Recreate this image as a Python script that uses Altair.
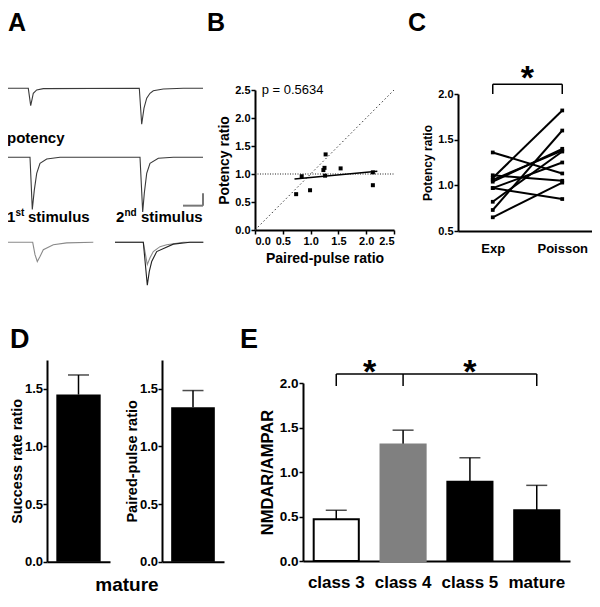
import altair as alt
import pandas as pd

FONT = "Liberation Sans"
W, H = 584, 590
M = 8  # page margin: reference pixel -> view pixel

# ---------------- data ----------------
# A: example current traces (time in ms, current in pA)
a1_t = [1, 12.15, 13.35, 14.15, 14.65, 16.35, 19.65, 67.65, 68.85, 70.0, 71.35, 73.0, 74.65, 79.65, 89.65, 99.5]
a1_i = [0, 0, -28, -16, -8, -2.7, -0.6, 0, -58, -32, -16, -8, -3.9, -1.1, 0, 0]
a2_t = [1, 13.0, 14.15, 15.15, 16.35, 18.0, 21.35, 28.0, 68.0, 69.35, 70.15, 71.35, 73.0, 77.15, 84.65, 99.5]
a2_i = [0, 0, -84, -53, -26, -9.7, -2.7, 0, 0, -88, -58, -26, -9.7, -1.6, 0, 0]
a3a_t = [1, 14.35, 15.5, 16.65, 18.0, 19.65, 24.65, 31.35, 44.65]
a3a_i = [0, 0, -20, -31, -23, -12, -4, -1, 0]
a3b_t = [55.5, 69.65, 71.65, 73.0, 74.65, 78.0, 81.35, 89.65, 99.65]
a3b_i = [0, 0, -36, -25, -15, -7, -4, 0, 0]
a3c_t = [55.5, 69.65, 71.65, 72.65, 73.85, 76.35, 84.65, 93.0, 99.65]
a3c_i = [0, 0, -69, -47, -31, -15, -3, 0, 0]
a_bar_t = [89.5, 99.5]
a_bar_i = [-78, -58]

# B: potency ratio vs paired-pulse ratio
b_ppr = [0.74, 0.84, 0.99, 1.23, 1.25, 1.27, 1.26, 1.54, 2.12, 2.12]
b_pot = [0.64, 0.96, 0.71, 1.07, 1.11, 1.35, 0.97, 1.10, 0.80, 1.03]
b_fit_x = [0.71, 2.20]
b_fit_y = [0.91, 1.05]
b_ident = [0.0, 2.5]
b_ref_y = 1.0
b_ptext = "p = 0.5634"

# C: paired potency ratio, Exp vs Poisson
c_groups = ["Exp", "Poisson"]
c_exp = [1.36, 1.08, 0.97, 1.11, 0.65, 0.73, 0.82, 0.97, 1.04, 1.06]
c_poi = [1.13, 1.82, 0.85, 1.05, 1.03, 1.60, 1.37, 1.25, 1.40, 1.38]

# D: mature
d_titles = ["Success rate ratio", "Paired-pulse ratio"]
d_mean = [1.45, 1.34]
d_sem = [0.17, 0.145]

# E: NMDAR/AMPAR
e_classes = ["class 3", "class 4", "class 5", "mature"]
e_mean = [0.47, 1.31, 0.89, 0.57]
e_sem = [0.10, 0.16, 0.27, 0.28]
e_fill = ["white", "#808080", "black", "black"]
e_stroke = ["black", "#808080", "black", "black"]


# ---------------- helpers ----------------
def lin(domain, r0, r1, vertical):
    return alt.Scale(domain=domain, range=[r0 - M, r1 - M], nice=False, zero=False)


def band(domain, r0, r1, pi, po):
    return alt.Scale(type="band", domain=domain, range=[r0 - M, r1 - M],
                     paddingInner=pi, paddingOuter=po)


def yaxis(xref, title, values, lsize, tsize, tpad, lpad=1):
    return alt.Axis(orient="left", offset=-(xref - M), values=values, format=".1f",
                    title=title, grid=False, labelFont=FONT, labelFontSize=lsize,
                    labelFontWeight="bold", labelColor="black", labelPadding=lpad,
                    titleFont=FONT, titleFontSize=tsize, titleFontWeight="bold",
                    titleColor="black", titlePadding=tpad, domainColor="black",
                    domainWidth=2, tickColor="black", tickWidth=1.5, tickSize=4)


def xaxis(yref, title=None, values=None, lsize=11, tsize=14, tpad=4, labels=True,
          ticks=True, lpad=1, fmt=None):
    kw = dict(orient="bottom", offset=(yref - M) - H, grid=False, labels=labels,
              ticks=ticks, labelFont=FONT, labelFontSize=lsize, labelFontWeight="bold",
              labelColor="black", labelPadding=lpad, titleFont=FONT, titleFontSize=tsize,
              titleFontWeight="bold", titleColor="black", titlePadding=tpad,
              domainColor="black", domainWidth=2, tickColor="black", tickWidth=1.5,
              tickSize=4, labelAngle=0)
    kw["title"] = title
    if values is not None:
        kw["values"] = values
    if fmt is not None:
        kw["format"] = fmt
    return alt.Axis(**kw)


def label(text, x, y, size, weight="bold", align="left", color="black"):
    return alt.Chart(pd.DataFrame({"t": [text]})).mark_text(
        font=FONT, fontSize=size, fontWeight=weight, align=align, baseline="alphabetic",
        color=color).encode(x=alt.value(x - M), y=alt.value(y - M), text="t:N")


layers = []

# ---------------- Panel A ----------------
ax = lin([0, 100], 4, 204, False)


def arow(base):
    return lin([-100, 0], base + 62, base, True)


def trace(t, i, base, color, width=1.1):
    df = pd.DataFrame({"t": t, "i": i})
    return alt.Chart(df).mark_line(color=color, strokeWidth=width).encode(
        x=alt.X("t:Q", scale=ax, axis=None), y=alt.Y("i:Q", scale=arow(base), axis=None))


layers += [
    trace(a1_t, a1_i, 88.3, "#3a3a3a"),
    trace(a2_t, a2_i, 157.3, "#3a3a3a"),
    trace(a3a_t, a3a_i, 242.3, "#8a8a8a"),
    trace(a3b_t, a3b_i, 242.3, "#8a8a8a"),
    trace(a3c_t, a3c_i, 242.3, "#222222"),
]
bar_df = pd.DataFrame({"t0": [a_bar_t[0]], "t1": [a_bar_t[1]], "i0": [a_bar_i[0]], "i1": [a_bar_i[1]]})
layers.append(alt.Chart(bar_df).mark_rule(color="#777777", strokeWidth=2).encode(
    x=alt.X("t0:Q", scale=ax, axis=None), x2="t1:Q",
    y=alt.Y("i0:Q", scale=arow(157.3), axis=None)))
layers.append(alt.Chart(bar_df).mark_rule(color="#777777", strokeWidth=2).encode(
    x=alt.X("t1:Q", scale=ax, axis=None),
    y=alt.Y("i0:Q", scale=arow(157.3), axis=None), y2="i1:Q"))
layers += [
    label("potency", 7, 143, 15),
    label("1", 7, 222, 15),
    label("st", 15.5, 216, 10),
    label("stimulus", 28, 222, 15),
    label("2", 116, 222, 15),
    label("nd", 124.5, 216, 10),
    label("stimulus", 141, 222, 15),
]

# ---------------- Panel B ----------------
bx = lin([0, 2.5], 255, 394, False)
by = lin([0, 2.5], 230, 90, True)
ticks25 = [0, 0.5, 1.0, 1.5, 2.0, 2.5]
b_df = pd.DataFrame({"ppr": b_ppr, "pot": b_pot})
layers.append(alt.Chart(pd.DataFrame({"x": b_ident, "y": b_ident})).mark_line(
    color="#333333", strokeWidth=1, strokeDash=[1.5, 2.5]).encode(
    x=alt.X("x:Q", scale=bx, axis=None), y=alt.Y("y:Q", scale=by, axis=None)))
layers.append(alt.Chart(pd.DataFrame({"x": [b_ident[0]], "x2": [b_ident[1]], "y": [b_ref_y]})).mark_rule(
    color="#222222", strokeWidth=1, strokeDash=[1, 1.5]).encode(
    x=alt.X("x:Q", scale=bx, axis=None), x2="x2:Q", y=alt.Y("y:Q", scale=by, axis=None)))
layers.append(alt.Chart(pd.DataFrame({"x": b_fit_x, "y": b_fit_y})).mark_line(
    color="black", strokeWidth=1.5).encode(
    x=alt.X("x:Q", scale=bx, axis=None), y=alt.Y("y:Q", scale=by, axis=None)))
layers.append(alt.Chart(b_df).mark_square(size=16, color="black", opacity=1).encode(
    x=alt.X("ppr:Q", scale=bx, axis=xaxis(230, "Paired-pulse ratio", ticks25, 11, 14, 5, fmt=".1f")),
    y=alt.Y("pot:Q", scale=by, axis=yaxis(255, "Potency ratio", ticks25, 11, 14, 3))))
layers.append(alt.Chart(pd.DataFrame({"x": [0.12], "y": [2.42], "t": [b_ptext]})).mark_text(
    font=FONT, fontSize=13, align="left", baseline="alphabetic", color="black").encode(
    x=alt.X("x:Q", scale=bx, axis=None), y=alt.Y("y:Q", scale=by, axis=None), text="t:N"))

# ---------------- Panel C ----------------
cx = alt.Scale(type="point", domain=c_groups, range=[458 - M, 597 - M], padding=0.5)
cy = lin([0.5, 2.0], 231, 94, True)
c_rows = []
for k, (a, b) in enumerate(zip(c_exp, c_poi)):
    c_rows.append({"id": k, "g": "Exp", "v": a})
    c_rows.append({"id": k, "g": "Poisson", "v": b})
c_df = pd.DataFrame(c_rows)
layers.append(alt.Chart(c_df).mark_line(color="black", strokeWidth=2).encode(
    x=alt.X("g:N", scale=cx, axis=None), y=alt.Y("v:Q", scale=cy, axis=None), detail="id:N"))
layers.append(alt.Chart(c_df).mark_square(size=14, color="black", opacity=1).encode(
    x=alt.X("g:N", scale=cx, axis=xaxis(231, None, None, 13, 13, 0, ticks=False, lpad=11)),
    y=alt.Y("v:Q", scale=cy, axis=yaxis(458, "Potency ratio", [0.5, 1.0, 1.5, 2.0], 11, 12, 3))))
layers.append(alt.Chart(pd.DataFrame({"g": ["Exp"], "g2": ["Poisson"], "y": [2.106]})).mark_rule(
    color="black", strokeWidth=1.5).encode(
    x=alt.X("g:N", scale=cx, axis=None), x2="g2:N", y=alt.Y("y:Q", scale=cy, axis=None)))
layers.append(alt.Chart(pd.DataFrame({"g": c_groups, "y": [2.0, 2.0], "y2": [2.106, 2.106]})).mark_rule(
    color="black", strokeWidth=1.5).encode(
    x=alt.X("g:N", scale=cx, axis=None), y=alt.Y("y:Q", scale=cy, axis=None), y2="y2:Q"))
layers.append(alt.Chart(pd.DataFrame({"g": ["Exp"], "y": [2.244], "t": ["*"]})).mark_text(
    font=FONT, fontSize=34, fontWeight="bold", align="center", baseline="middle",
    color="black", dx=34.5, dy=7).encode(
    x=alt.X("g:N", scale=cx, axis=None), y=alt.Y("y:Q", scale=cy, axis=None), text="t:N"))

# ---------------- Panel D ----------------
dy_sc = lin([0, 1.75], 561.7, 360, True)
for k, (x0, x1) in enumerate([(47, 110), (162, 224)]):
    dx_sc = band(["mature"], x0, x1, 0, 0.21)
    ddf = pd.DataFrame({"c": ["mature"], "m": [d_mean[k]], "top": [d_mean[k] + d_sem[k]]})
    layers.append(alt.Chart(ddf).mark_bar(color="black").encode(
        x=alt.X("c:N", scale=dx_sc, axis=xaxis(561.7, None, labels=False, ticks=False)),
        y=alt.Y("m:Q", scale=dy_sc,
                axis=yaxis(x0, d_titles[k], [0.0, 0.5, 1.0, 1.5], 13, 14.5, 0, lpad=0.5))))
    layers.append(alt.Chart(ddf).mark_rule(color="black", strokeWidth=1.5).encode(
        x=alt.X("c:N", scale=dx_sc, axis=None), y=alt.Y("m:Q", scale=dy_sc, axis=None), y2="top:Q"))
    layers.append(alt.Chart(ddf).mark_tick(color="black", size=21, thickness=1.5).encode(
        x=alt.X("c:N", scale=dx_sc, axis=None), y=alt.Y("top:Q", scale=dy_sc, axis=None)))
layers.append(label("mature", 127, 591, 19, align="center"))

# ---------------- Panel E ----------------
ex = band(e_classes, 303, 570, 0.325, 0.16)
ey = lin([0, 2.0], 561, 383, True)
e_df = pd.DataFrame({"c": e_classes, "m": e_mean, "top": [a + b for a, b in zip(e_mean, e_sem)]})
layers.append(alt.Chart(e_df).mark_rule(color="black", strokeWidth=1.5).encode(
    x=alt.X("c:N", scale=ex, axis=None), y=alt.Y("m:Q", scale=ey, axis=None), y2="top:Q"))
layers.append(alt.Chart(e_df).mark_tick(color="black", size=21, thickness=1.5).encode(
    x=alt.X("c:N", scale=ex, axis=None), y=alt.Y("top:Q", scale=ey, axis=None)))
layers.append(alt.Chart(e_df).mark_bar(strokeWidth=2, opacity=1).encode(
    x=alt.X("c:N", scale=ex, sort=e_classes,
            axis=xaxis(561, None, None, 17, 17, 0, ticks=False, lpad=13)),
    y=alt.Y("m:Q", scale=ey,
            axis=yaxis(303, "NMDAR/AMPAR", [0.0, 0.5, 1.0, 1.5, 2.0], 13.5, 16.5, 4)),
    fill=alt.Fill("c:N", scale=alt.Scale(domain=e_classes, range=e_fill), legend=None),
    stroke=alt.Stroke("c:N", scale=alt.Scale(domain=e_classes, range=e_stroke), legend=None)))
layers.append(alt.Chart(pd.DataFrame({"c": ["class 3"], "c2": ["mature"], "y": [2.10]})).mark_rule(
    color="black", strokeWidth=1.5).encode(
    x=alt.X("c:N", scale=ex, axis=None), x2="c2:N", y=alt.Y("y:Q", scale=ey, axis=None)))
layers.append(alt.Chart(pd.DataFrame({"c": ["class 3", "class 4", "mature"], "y": [1.966] * 3,
                                      "y2": [2.10] * 3})).mark_rule(
    color="black", strokeWidth=1.5).encode(
    x=alt.X("c:N", scale=ex, axis=None), y=alt.Y("y:Q", scale=ey, axis=None), y2="y2:Q"))
layers.append(alt.Chart(pd.DataFrame({"c": ["class 4"], "y": [2.19], "t": ["*"]})).mark_text(
    font=FONT, fontSize=34, fontWeight="bold", align="center", baseline="middle",
    color="black", dx=-33.5, dy=7).encode(
    x=alt.X("c:N", scale=ex, axis=None), y=alt.Y("y:Q", scale=ey, axis=None), text="t:N"))
layers.append(alt.Chart(pd.DataFrame({"c": ["class 5"], "y": [2.19], "t": ["*"]})).mark_text(
    font=FONT, fontSize=34, fontWeight="bold", align="center", baseline="middle",
    color="black", dy=7).encode(
    x=alt.X("c:N", scale=ex, axis=None), y=alt.Y("y:Q", scale=ey, axis=None), text="t:N"))

# ---------------- panel letters ----------------
layers += [
    label("A", 8, 30.5, 25),
    label("B", 207, 30.5, 25),
    label("C", 408, 30.5, 25),
    label("D", 10, 348, 27),
    label("E", 240, 348, 27),
]

chart = alt.layer(*layers).resolve_scale(
    x="independent", y="independent", fill="independent", stroke="independent"
).resolve_axis(x="independent", y="independent").properties(
    width=W, height=H, autosize=alt.AutoSizeParams(type="none"), padding=0,
    background="white"
).configure_view(stroke=None)

chart.save("out.html", embed_options={"renderer": "svg", "actions": False})
